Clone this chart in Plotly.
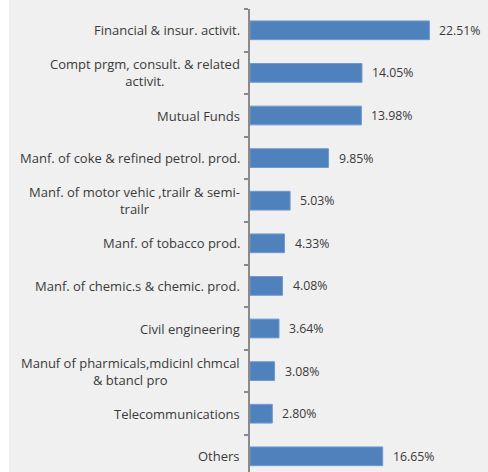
import plotly.graph_objects as go

# Sector shares (top to bottom)
sectors = [
    "Financial & insur. activit.",
    "Compt prgm, consult. & related<br>activit.",
    "Mutual Funds",
    "Manf. of coke & refined petrol. prod.",
    "Manf. of motor vehic ,trailr & semi-<br>trailr",
    "Manf. of tobacco prod.",
    "Manf. of chemic.s & chemic. prod.",
    "Civil engineering",
    "Manuf of pharmicals,mdicinl chmcal<br>& btancl pro",
    "Telecommunications",
    "Others",
]
shares = [22.51, 14.05, 13.98, 9.85, 5.03, 4.33, 4.08, 3.64, 3.08, 2.80, 16.65]

FONT = "Open Sans"
TEXT_COLOR = "#3a3a3a"
BAR_COLOR = "#4f81bd"

W, H = 488, 472
ML, MR, MT, MB = 250, 0, 9, 0
plot_w = W - ML - MR
plot_h = H - MT - MB
px_per_pct = 7.97
band_px = 42.6

idx = list(range(len(sectors)))

fig = go.Figure()
fig.add_trace(go.Bar(
    x=shares,
    y=idx,
    orientation="h",
    marker=dict(color=BAR_COLOR, line=dict(color="#6f9ad0", width=1)),
    hoverinfo="skip",
))

# value labels just past the bar ends
for i, v in zip(idx, shares):
    fig.add_annotation(
        x=v, y=i, xref="x", yref="y",
        text=f"{v:.2f}%", showarrow=False,
        xanchor="left", yanchor="middle", xshift=8,
        font=dict(family=FONT, size=12.3, color=TEXT_COLOR),
    )

# category labels, centered within their block, right-aligned to the axis
for i, s in zip(idx, sectors):
    fig.add_annotation(
        x=0, y=i, xref="x", yref="y",
        text=s, showarrow=False, align="center",
        xanchor="right", yanchor="middle", xshift=-8,
        font=dict(family=FONT, size=13, color=TEXT_COLOR),
    )

# light gray panel, leaving a thin white strip at the left edge
fig.add_shape(
    type="rect", xref="paper", yref="paper", layer="below",
    x0=(9 - ML) / plot_w, x1=1.05, y0=-0.1, y1=1 + MT / plot_h + 0.1,
    fillcolor="#f0f0f0", line=dict(width=0),
)

fig.update_layout(
    width=W, height=H,
    margin=dict(l=ML, r=MR, t=MT, b=MB, pad=0),
    paper_bgcolor="white",
    plot_bgcolor="rgba(0,0,0,0)",
    showlegend=False,
    bargap=0.56,
    xaxis=dict(
        range=[0, plot_w / px_per_pct],
        visible=False, fixedrange=True,
    ),
    yaxis=dict(
        range=[-0.5 + plot_h / band_px, -0.5],
        tickmode="array",
        tickvals=[i + 0.5 for i in idx[:-1]] + [-0.5],
        ticktext=[""] * len(idx),
        ticks="outside", ticklen=4, tickcolor="#8a8a8a", tickwidth=1.5,
        showline=True, linecolor="#8a8a8a", linewidth=1.5,
        showgrid=False, zeroline=False, fixedrange=True,
    ),
)

fig.write_html("out.html")
